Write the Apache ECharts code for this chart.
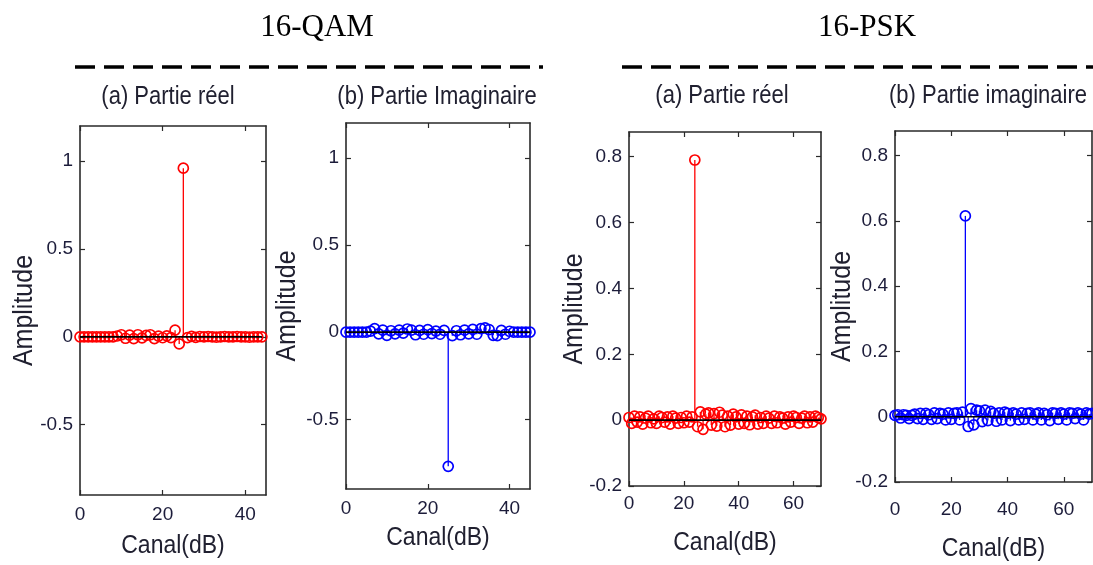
<!DOCTYPE html>
<html>
<head>
<meta charset="utf-8">
<script src="https://cdn.jsdelivr.net/npm/echarts@6/dist/echarts.min.js"></script>
<style>
  html, body { margin: 0; padding: 0; background: #fff; }
  #chart { width: 1093px; height: 565px; }
</style>
</head>
<body>
<div id="chart"></div>
<script>
// Channel index (x) for each group of subplots
const qamRealX = [0,1,2,3,4,5,6,7,8,9,10,11,12,13,14,15,16,17,18,19,20,21,22,23,24,25,26,27,28,29,30,31,32,33,34,35,36,37,38,39,40,41,42,43,44];
const qamImagX = [0,1,2,3,4,5,6,7,8,9,10,11,12,13,14,15,16,17,18,19,20,21,22,23,24,25,26,27,28,29,30,31,32,33,34,35,36,37,38,39,40,41,42,43,44,45];
const pskX = [0,1,2,3,4,5,6,7,8,9,10,11,12,13,14,15,16,17,18,19,20,21,22,23,24,25,26,27,28,29,30,31,32,33,34,35,36,37,38,39,40,41,42,43,44,45,46,47,48,49,50,51,52,53,54,55,56,57,58,59,60,61,62,63,64,65,66,67,68,69,70];

// 16-QAM amplitudes
const qamReal = [0,0,0,0,0,0,0,0,0,0.005,
  0.012,-0.008,0.010,-0.010,0.012,-0.006,0.008,0.012,-0.010,0.004,
  -0.005,0.006,-0.004,0.038,-0.040,0.960,-0.004,0.003,-0.003,0.002,
  0,0.002,0,-0.002,0,0.002,0,0,0.002,0,
  0,-0.002,0,0,0];
const qamImag = [0,0,0,0,0,0,0.006,0.020,-0.010,0.012,
  -0.018,0.008,-0.010,0.012,-0.006,0.018,0.012,-0.015,0.010,-0.012,
  0.014,-0.008,0.006,-0.012,0.010,-0.770,-0.020,0.008,-0.015,0.012,
  -0.010,0.016,-0.012,0.020,0.025,0.015,-0.018,-0.020,0.010,-0.012,
  0.005,0,0,0,0,0];

// 16-PSK amplitudes
const pskReal = [0.008,-0.010,0.012,-0.006,0.010,-0.012,0.006,0.012,-0.008,0.004,
  -0.010,0.012,0.008,-0.006,0.010,-0.012,0.012,0.006,-0.010,0.008,
  -0.008,0.012,-0.006,0.010,0.790,-0.020,0.025,-0.028,0.018,0.022,
  -0.015,0.020,-0.018,0.024,0.015,-0.020,0.012,-0.015,0.018,0.010,
  -0.012,0.016,-0.010,0.012,-0.014,0.010,0.015,-0.012,0.008,-0.010,
  0.012,0.006,-0.010,0.012,-0.008,0.010,0.006,-0.012,0.010,-0.006,
  0.012,0.008,-0.010,0.006,0.012,-0.008,0.010,-0.006,0.012,0.008,
  0.004];
const pskImag = [0.004,0.006,-0.004,0.006,0.004,-0.006,0.004,0.008,-0.006,0.010,
  -0.008,0.010,0.006,-0.008,0.012,-0.006,0.010,0.008,-0.010,0.012,
  -0.008,0.010,0.012,-0.010,0.014,0.615,-0.030,0.025,-0.025,0.020,
  0.018,-0.015,0.020,-0.012,0.016,0.010,-0.014,0.012,-0.010,0.014,
  0.010,-0.012,0.012,0.008,-0.010,0.012,-0.008,0.010,0.012,-0.010,
  0.008,0.012,-0.010,0.010,0.006,-0.012,0.012,0.010,-0.008,0.012,
  0.008,-0.010,0.012,0.010,-0.006,0.012,0.008,-0.010,0.012,0.008,
  0.010];

// Tick values
const qamXTicks = [0, 20, 40];
const qamYTicks = [-0.5, 0, 0.5, 1];
const pskXTicks = [0, 20, 40, 60];
const pskYTicks = [-0.2, 0, 0.2, 0.4, 0.6, 0.8];

// Text
const panelTitles = ['(a) Partie réel', '(b) Partie Imaginaire', '(a) Partie réel', '(b) Partie imaginaire'];
const groupTitles = ['16-QAM', '16-PSK'];
const xName = 'Canal(dB)';
const yName = 'Amplitude';

const RED = '#ff0000';
const BLUE = '#0000ff';
const AXIS = '#2a2a2a';
const LABEL = '#1c1c3a';
const TEXT = '#202030';
const SANS = '"Liberation Sans", Arial, sans-serif';
const SERIF = '"Liberation Serif", "Times New Roman", serif';

const panels = [
  { x: qamRealX, y: qamReal, color: RED,  grid: { left: 80,  top: 126, width: 186, height: 369 },
    xMax: 45, yMin: -0.9, yMax: 1.2, xTicks: qamXTicks, yTicks: qamYTicks,
    title: { x: 168, y: 97 }, xNameY: 546, yNameX: 25, xMargin: 10 },
  { x: qamImagX, y: qamImag, color: BLUE, grid: { left: 346, top: 123, width: 184, height: 366 },
    xMax: 45, yMin: -0.9, yMax: 1.2, xTicks: qamXTicks, yTicks: qamYTicks,
    title: { x: 437, y: 97 }, xNameY: 538, yNameX: 288, xMargin: 10 },
  { x: pskX, y: pskReal, color: RED,  grid: { left: 629, top: 132, width: 192, height: 354 },
    xMax: 70, yMin: -0.2, yMax: 0.875, xTicks: pskXTicks, yTicks: pskYTicks,
    title: { x: 722, y: 96 }, xNameY: 543, yNameX: 575, xMargin: 8 },
  { x: pskX, y: pskImag, color: BLUE, grid: { left: 895, top: 131, width: 197, height: 351 },
    xMax: 70, yMin: -0.2, yMax: 0.875, xTicks: pskXTicks, yTicks: pskYTicks,
    title: { x: 988, y: 96 }, xNameY: 549, yNameX: 843, xMargin: 18 }
];

const grids = [], xAxes = [], yAxes = [], series = [], texts = [];

panels.forEach((p, i) => {
  grids.push(Object.assign({ containLabel: false }, p.grid));
  const tickStyle = { show: true, inside: true, length: 5, lineStyle: { color: AXIS, width: 1.2 } };
  const lineStyle = { show: true, onZero: false, lineStyle: { color: AXIS, width: 1.6 } };
  const labelStyle = { color: LABEL, fontFamily: SANS, fontSize: 19 };

  // bottom x axis and its mirrored top edge
  xAxes.push({
    type: 'value', gridIndex: i, position: 'bottom', min: 0, max: p.xMax,
    axisLine: lineStyle, axisTick: Object.assign({ customValues: p.xTicks }, tickStyle),
    axisLabel: Object.assign({ customValues: p.xTicks, margin: p.xMargin }, labelStyle),
    splitLine: { show: false }
  });
  xAxes.push({
    type: 'value', gridIndex: i, position: 'top', min: 0, max: p.xMax,
    axisLine: lineStyle, axisTick: Object.assign({ customValues: p.xTicks }, tickStyle),
    axisLabel: { show: false }, splitLine: { show: false }
  });
  // left y axis and its mirrored right edge
  yAxes.push({
    type: 'value', gridIndex: i, position: 'left', min: p.yMin, max: p.yMax,
    axisLine: lineStyle, axisTick: Object.assign({ customValues: p.yTicks }, tickStyle),
    axisLabel: Object.assign({ customValues: p.yTicks, margin: 7 }, labelStyle),
    splitLine: { show: false }
  });
  yAxes.push({
    type: 'value', gridIndex: i, position: 'right', min: p.yMin, max: p.yMax,
    axisLine: lineStyle, axisTick: Object.assign({ customValues: p.yTicks }, tickStyle),
    axisLabel: { show: false }, splitLine: { show: false }
  });

  const pts = p.x.map((xv, k) => [xv, p.y[k]]);
  const color = p.color;

  // stems from the zero baseline to each sample
  series.push({
    type: 'custom', xAxisIndex: 2 * i, yAxisIndex: 2 * i, data: pts, clip: false, z: 2,
    renderItem: (params, api) => {
      const a = api.coord([api.value(0), 0]);
      const b = api.coord([api.value(0), api.value(1)]);
      return { type: 'line', shape: { x1: a[0], y1: a[1], x2: b[0], y2: b[1] },
               style: { stroke: color, lineWidth: 1.3 } };
    }
  });
  // hollow circle markers
  series.push({
    type: 'scatter', xAxisIndex: 2 * i, yAxisIndex: 2 * i, data: pts, clip: false, z: 3,
    symbol: 'circle', symbolSize: 10,
    itemStyle: { color: 'rgba(0,0,0,0)', borderColor: color, borderWidth: 1.7, opacity: 1 },
    emphasis: { disabled: true }
  });
  // black baseline across the sample range
  series.push({
    type: 'line', xAxisIndex: 2 * i, yAxisIndex: 2 * i, z: 4, symbol: 'none',
    data: [[p.x[0], 0], [p.x[p.x.length - 1], 0]],
    lineStyle: { color: '#000', width: 1.6 }, silent: true
  });

  // subplot title, x label and rotated y label (slightly tall letterforms)
  texts.push({
    type: 'text', x: p.title.x, y: p.title.y, scaleY: 1.15,
    style: { text: panelTitles[i], font: '22px ' + SANS, fill: TEXT, align: 'center', verticalAlign: 'middle' }
  });
  texts.push({
    type: 'text', x: p.grid.left + p.grid.width / 2, y: p.xNameY, scaleY: 1.15,
    style: { text: xName, font: '23px ' + SANS, fill: TEXT, align: 'center', verticalAlign: 'middle' }
  });
  texts.push({
    type: 'text', x: p.yNameX, y: p.grid.top + p.grid.height / 2, rotation: Math.PI / 2, scaleY: 1.08,
    style: { text: yName, font: '25px ' + SANS, fill: TEXT, align: 'center', verticalAlign: 'middle' }
  });
});

// group headings and dashed separators
texts.push(
  { type: 'text', x: 317, y: 28, style: { text: groupTitles[0], font: '31px ' + SERIF, fill: '#000', align: 'center', verticalAlign: 'middle' } },
  { type: 'text', x: 867, y: 28, style: { text: groupTitles[1], font: '31px ' + SERIF, fill: '#000', align: 'center', verticalAlign: 'middle' } },
  { type: 'line', shape: { x1: 75, y1: 67, x2: 543, y2: 67 }, style: { stroke: '#000', lineWidth: 3.5, lineDash: [20, 9] } },
  { type: 'line', shape: { x1: 622, y1: 67, x2: 1093, y2: 67 }, style: { stroke: '#000', lineWidth: 3.5, lineDash: [20, 9] } }
);

const chart = echarts.init(document.getElementById('chart'), null, { renderer: 'canvas' });
chart.setOption({
  backgroundColor: '#fff',
  animation: false,
  grid: grids,
  xAxis: xAxes,
  yAxis: yAxes,
  graphic: texts,
  series: series
});
</script>
</body>
</html>
